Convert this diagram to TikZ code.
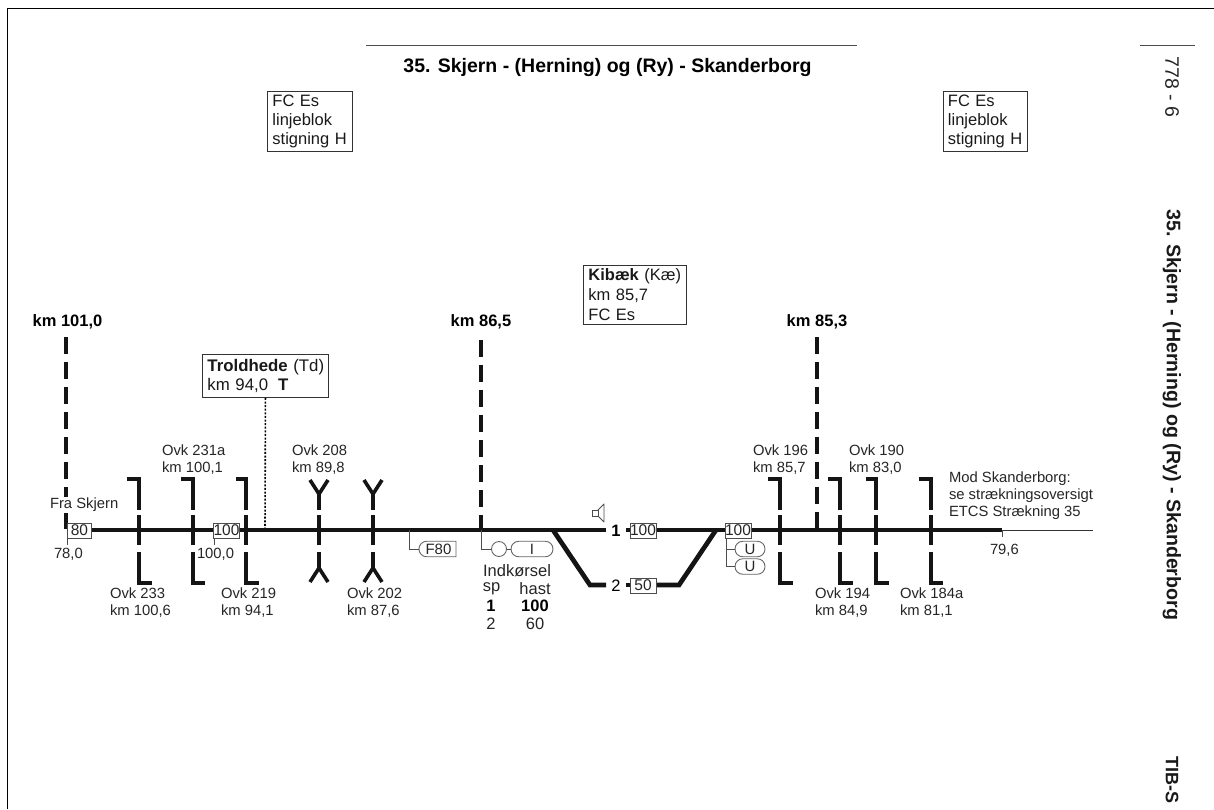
\documentclass[tikz,border=0pt]{standalone}
\usepackage{fontspec}
\setmainfont{Liberation Sans}
\usetikzlibrary{shapes.misc}
\tikzset{
  x=1pt,y=-1pt,
  thin line/.style={draw=black!70,line width=0.9pt},
  frame line/.style={draw=black,line width=1pt},
  track/.style={draw=black!92,line width=4.7pt},
  crossing/.style={draw=black!92,line width=4.2pt,miter limit=10},
  kmline/.style={draw=black!92,line width=4pt,dash pattern=on 17pt off 8pt},
  lbl/.style={inner sep=0pt,outer sep=0pt,align=left,anchor=north west,font=\fontsize{14.8}{17}\selectfont,text=black!85},
  boldlbl/.style={inner sep=0pt,outer sep=0pt,anchor=center,font=\fontsize{16.5}{18}\bfseries\selectfont},
  tablelbl/.style={lbl,anchor=north,font=\fontsize{16.5}{17}\selectfont},
  infobox/.style={draw=black!80,line width=0.9pt,fill=white,inner xsep=5pt,inner ysep=0pt,anchor=north west,align=left,font=\fontsize{16.5}{19.2}\selectfont,text=black!90},
  speed/.style={draw=black!70,line width=0.9pt,fill=white,inner sep=0pt,minimum height=15pt,font=\fontsize{15.5}{16}\selectfont,text=black!85},
  sig/.style={draw=black!60,line width=0.9pt,fill=white,inner sep=0pt,rounded rectangle,minimum height=15.5pt,font=\fontsize{15}{16}\selectfont,text=black!85},
  sigcirc/.style={draw=black!60,line width=0.9pt,fill=white,inner sep=0pt,circle,minimum size=15pt},
}
\newcommand{\crossR}[3]{% x, left end, right end
  \draw[crossing] (#2,479) -- (#1,479) -- (#1,510);
  \draw[crossing] (#1,515) -- (#1,545);
  \draw[crossing] (#1,552) -- (#1,583) -- (#3,583);
}
\newcommand{\crossY}[1]{%
  \draw[crossing,line width=3.6pt] (#1-9,480) -- (#1,494) -- (#1+9,480);
  \draw[crossing] (#1,494) -- (#1,510);
  \draw[crossing] (#1,515) -- (#1,545);
  \draw[crossing] (#1,552) -- (#1,568);
  \draw[crossing,line width=3.6pt] (#1-9,582) -- (#1,568) -- (#1+9,582);
}
\begin{document}
\begin{tikzpicture}
\path[use as bounding box,fill=white] (0,0) rectangle (1214,809);
% frame
\draw[frame line] (7,809) -- (7,8) -- (1214,8);
\draw[thin line] (366,45) -- (857,45);
\draw[thin line] (1140,45) -- (1195,45);
\node[inner sep=0pt,font=\fontsize{19.5}{22}\bfseries\selectfont] (title) at (607.5,67) {35. Skjern - (Herning) og (Ry) - Skanderborg};
\node[inner sep=0pt,rotate=-90,font=\fontsize{19.5}{21}\selectfont,text=black!85] (side1) at (1172,87) {778 - 6};
\node[inner sep=0pt,rotate=-90,font=\fontsize{19.6}{21}\bfseries\selectfont,text=black!90] (side2) at (1172,415) {35. Skjern - (Herning) og (Ry) - Skanderborg};
\node[inner sep=0pt,rotate=-90,font=\fontsize{18}{21}\bfseries\selectfont,text=black!90] (side3) at (1172,780) {TIB-S};
% info boxes
\node[infobox,text width=75pt,minimum height=60pt] (fc1) at (267,91) {FC Es\\linjeblok\\stigning H};
\node[infobox,inner xsep=4.5pt,text width=75pt,minimum height=60pt] (fc2) at (943,91) {FC Es\\linjeblok\\stigning H};
\node[infobox,text width=93pt,minimum height=59pt,font=\fontsize{16.5}{20}\selectfont] (kibaek) at (583,265) {\textbf{Kibæk} (Kæ)\\km 85,7\\FC Es};
\node[infobox,inner xsep=4pt,text width=118pt,minimum height=43pt,font=\fontsize{16.8}{19}\selectfont] (trold) at (202,354) {\hspace{1pt}\textbf{Troldhede} (Td)\\\hspace{1pt}km 94,0\hspace{10pt}\textbf{T}};
% km labels and lines
\node[boldlbl] (km1) at (67.5,322) {km 101,0};
\node[boldlbl] (km2) at (481,322) {km 86,5};
\node[boldlbl] (km3) at (817,322) {km 85,3};
\coordinate (t1) at (66,530);
\coordinate (t2) at (481,530);
\coordinate (t3) at (817,530);
\coordinate (t4) at (265,530);
\draw[kmline] (66,337) -- (t1);
\draw[kmline] (481,340) -- (t2);
\draw[kmline] (817,337) -- (t3);
\draw[draw=black,line width=1.6pt,dash pattern=on 2pt off 1.6pt] (trold.south) -- (t4);
\node[lbl,fill=white,inner ysep=1pt] (fra) at (50,497) {Fra Skjern};
% track
\coordinate (a) at (67,530);
\coordinate (b) at (553,530);
\coordinate (c) at (606,530);
\coordinate (d) at (1002,530);
\coordinate (e) at (1093,530);
\draw[thin line,draw=black!80] (d) -- (e);
\draw[thin line] (d) -- (1002,537);
\draw[thin line] (67,530) -- (67,545);
\draw[thin line] (214,530) -- (214,545);
\draw[track] (a) -- (c);
\draw[track,line join=miter] (b) -- (590,585) -- (606,585);
\draw[track] (626,530) -- (630,530);
\draw[track] (626,585) -- (630,585);
\draw[track] (656,530) -- (d);
\draw[track,line join=miter] (656,585) -- (679,585) -- (716,530);
% crossings
\crossR{139}{127}{152}
\crossR{193}{181}{205}
\crossR{246}{236}{259}
\crossY{319}
\crossY{373}
\crossR{780}{768}{793}
\crossR{840}{828}{853}
\crossR{876}{866}{889}
\crossR{931}{919}{943}
% speed boxes
\node[speed,minimum width=24pt] (s80) at (79.5,530.5) {80};
\node[speed,minimum width=25pt] (s100a) at (226.5,530.5) {100};
\node[speed,minimum width=26pt] (s100b) at (643,530.5) {100};
\node[speed,minimum width=26pt] (s50) at (643,585.5) {50};
\node[speed,minimum width=26pt] (s100c) at (738,530.5) {100};
\node[font=\fontsize{16.5}{17}\bfseries\selectfont,inner sep=0pt] (n1) at (616,531) {1};
\node[font=\fontsize{16.5}{17}\selectfont,inner sep=0pt] (n2) at (616,586) {2};
% signals
\node[sig,rounded rectangle east arc=none,minimum width=37pt] (f80) at (438.5,549) {F80};
\draw[thin line] (409,530) |- (f80.west);
\node[sigcirc] (circ) at (499,549) {};
\node[sig,minimum width=42pt] (sigI) at (532,549) {I};
\draw[thin line] (481,530) |- (circ.west);
\draw[thin line] (circ.east) -- (sigI.west);
\node[sig,minimum width=30pt] (u1) at (750,549) {U};
\node[sig,minimum width=30pt] (u2) at (750,566.5) {U};
\draw[thin line] (s100c.south -| 726,0) |- (u1.west);
\draw[thin line] (726,549) |- (u2.west);
% speaker
\draw[thin line,fill=white] (592,510) rectangle (598,516);
\draw[thin line,line join=round] (598,510) -- (604,504) -- (604,522) -- (598,516);
% labels
\node[lbl] (o231a) at (162,445) {Ovk 231a\\km 100,1};
\node[lbl] (o208) at (292,445) {Ovk 208\\km 89,8};
\node[lbl] (o196) at (753,445) {Ovk 196\\km 85,7};
\node[lbl] (o190) at (849,445) {Ovk 190\\km 83,0};
\node[lbl] (o233) at (110,588) {Ovk 233\\km 100,6};
\node[lbl] (o219) at (221,588) {Ovk 219\\km 94,1};
\node[lbl] (o202) at (347,588) {Ovk 202\\km 87,6};
\node[lbl] (o194) at (815,588) {Ovk 194\\km 84,9};
\node[lbl] (o184) at (900,588) {Ovk 184a\\km 81,1};
\node[lbl] (mod) at (949,471.5) {Mod Skanderborg:\\se strækningsoversigt\\ETCS Strækning 35};
\node[lbl] (v780) at (54,548) {78,0};
\node[lbl] (v100) at (197,548) {100,0};
\node[lbl] (v796) at (990,544) {79,6};
\node[tablelbl] (ind) at (517,565) {Indkørsel};
\node[tablelbl] (sp) at (491.5,582.5) {sp};
\node[tablelbl] (hast) at (535,582.5) {hast};
\node[tablelbl,font=\fontsize{16.5}{17}\bfseries\selectfont,text=black] (r1a) at (491,600) {1};
\node[tablelbl,font=\fontsize{16.5}{17}\bfseries\selectfont,text=black] (r1b) at (535,600) {100};
\node[tablelbl] (r2a) at (491,618) {2};
\node[tablelbl] (r2b) at (535,618) {60};
\end{tikzpicture}
\end{document}
